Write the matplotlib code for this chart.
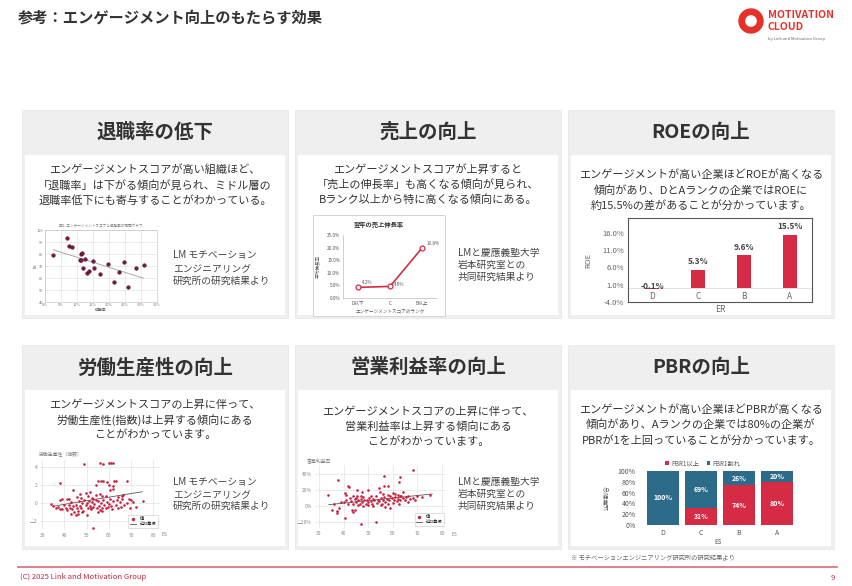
import numpy as np
import matplotlib
matplotlib.use("Agg")
import matplotlib.pyplot as plt
from matplotlib.patches import Rectangle, Wedge

plt.rcParams['font.family'] = ['Noto Sans CJK JP', 'DejaVu Sans']

W, H = 852, 586
RED = '#d52b45'
TEAL = '#2d6b8b'
DARK = '#333333'
GRAY = '#777777'

# ---- texts ----
page_title = '参考：エンゲージメント向上のもたらす効果'
headers = ['退職率の低下', '売上の向上', 'ROEの向上',
           '労働生産性の向上', '営業利益率の向上', 'PBRの向上']
descs = [
    ['エンゲージメントスコアが高い組織ほど、',
     '「退職率」は下がる傾向が見られ、ミドル層の',
     '退職率低下にも寄与することがわかっている。'],
    ['エンゲージメントスコアが上昇すると',
     '「売上の伸長率」も高くなる傾向が見られ、',
     'Bランク以上から特に高くなる傾向にある。'],
    ['エンゲージメントが高い企業ほどROEが高くなる',
     '傾向があり、DとAランクの企業ではROEに',
     '約15.5%の差があることが分かっています。'],
    ['エンゲージメントスコアの上昇に伴って、',
     '労働生産性(指数)は上昇する傾向にある',
     'ことがわかっています。'],
    ['エンゲージメントスコアの上昇に伴って、',
     '営業利益率は上昇する傾向にある',
     'ことがわかっています。'],
    ['エンゲージメントが高い企業ほどPBRが高くなる',
     '傾向があり、Aランクの企業では80%の企業が',
     'PBRが1を上回っていることが分かっています。'],
]
note_lm = ['LM モチベーション', 'エンジニアリング', '研究所の研究結果より']
note_keio = ['LMと慶應義塾大学', '岩本研究室との', '共同研究結果より']

# ---- chart 1: 退職率 vs ES ----
ret_x = [0.024, 0.068, 0.076, 0.084, 0.111, 0.115, 0.108, 0.113, 0.126, 0.118, 0.130,
         0.136, 0.151, 0.153, 0.171, 0.196, 0.215, 0.232, 0.246, 0.258, 0.283, 0.310]
ret_y = [79.3, 93.2, 86.9, 85.5, 80.1, 80.9, 74.9, 74.9, 75.5, 68.6, 64.0,
         65.6, 74.1, 68.6, 63.7, 71.6, 56.4, 65.1, 73.3, 52.8, 68.1, 71.1]
trend1_x = [0.025, 0.307]
trend1_y = [83.6, 59.9]

# ---- chart 2: 売上伸長率 ----
sales_cats = ['D以下', 'C', 'B以上']
sales_vals = [4.2, 4.6, 19.8]

# ---- chart 3: ROE ----
roe_cats = ['D', 'C', 'B', 'A']
roe_vals = [-0.1, 5.3, 9.6, 15.5]

# ---- chart 4: 労働生産性 vs ES ----
lp_x = [49, 56, 57.5, 60, 61, 62,
        38, 44, 54, 55, 56.5, 57.5, 59, 62, 62.3, 63, 68, 60,
        49.5, 50.5, 51.5, 47, 47.5, 52.5, 53, 57, 58.5, 60.5, 62, 66, 66.5, 64, 56, 54,
        45.5, 41, 42, 38, 39, 69, 70, 75.5, 72,
        34, 35, 36, 37, 38, 39, 40, 40.5, 41, 42, 42.5, 43, 43.5, 44, 44.5, 45, 45.5,
        46, 46.5, 47, 47.5, 48, 48.5, 49, 49.5, 50, 50.5, 51, 51.5, 52, 52.5, 53, 53.5,
        54, 54.5, 55, 55.5, 56, 56.5, 57, 57.5, 58, 58.5, 59, 59.5, 60, 60.5, 61, 61.5,
        62, 63, 63.5, 64, 65, 65.5, 66, 67, 68, 69.5, 71, 46, 50, 52, 55, 57, 43, 48,
        53, 45]
lp_y = [4.3, 4.4, 4.3, 4.4, 4.5, 4.5,
        2.2, 1.5, 2.0, 2.5, 2.5, 2.5, 2.3, 1.9, 2.5, 2.5, 2.5, 2.0,
        1.1, 0.8, 1.2, 1.0, 0.6, 0.6, 0.4, 0.8, 0.8, 1.4, 1.6, 0.8, 0.9, 0.7, 1.0, 0.9,
        0.7, 0.4, 0.5, 0.3, 0.5, 0.4, 0.3, 0.2, -0.4,
        -0.1, -0.3, -0.6, -0.4, -0.7, -0.7, -0.2, -0.6, -0.8, -0.2, -0.5, 0.1, -0.7, -0.3, -1.0, -0.2, -0.6,
        -1.2, 0.2, -0.3, -0.6, 0.0, -0.9, 0.3, -0.2, 0.0, -0.5, 0.2, -0.3, -0.7, 0.1, -0.4, -0.1,
        0.3, -0.6, 0.2, -0.3, -0.8, 0.0, -0.5, 0.3, -0.2, -0.6, 0.1, -0.4, -0.1, 0.4, -0.3, -0.7,
        0.2, -0.2, 0.3, -0.5, 0.1, -0.4, 0.4, -0.2, 0.0, -0.6, 0.1, -0.9, -1.3, -0.6, -1.0, -0.9, -1.2, -1.0,
        -2.8, -1.3]
trend4_x = [35, 75]
trend4_y = [-0.35, 1.25]

# ---- chart 5: 営業利益率 vs ES ----
om_x = [68, 37.6, 56.6, 63, 62.7, 41.7, 42.4, 56.4, 58, 45.4, 49.8, 47.4, 54.2, 54.9,
        40.6, 33.5, 41, 47, 56, 60, 62, 64, 66, 70, 72, 75, 45,
        40.6, 47, 53.2, 35.2, 37.3, 37.3, 43.3, 44, 44.7, 36, 38, 39,
        40, 41, 42, 42.5, 43, 44, 44.5, 45, 45.5, 46, 46.5, 47, 47.5, 48, 48.5, 49,
        49.5, 50, 50.5, 51, 51.5, 52, 52.5, 53, 53.5, 54, 54.5, 55, 55.5, 56, 56.5, 57,
        57.5, 58, 58.5, 59, 59.5, 60, 60.5, 61, 61.5, 62, 62.5, 63, 63.5, 64, 65, 65.5,
        66, 67, 68, 69, 50, 52, 55, 57, 48, 46, 44, 51, 58, 61, 63, 59]
om_y = [44.6, 33, 37, 36, 30, 24.6, 24.2, 24.6, 24.6, 20, 19.6, 18, 22.5, 17,
        16, 14, 14, 13, 15, 16, 14, 18, 13, 12, 11, 14, 10,
        -15, -22, -20, -4.6, -6.7, -8.7, -4.6, -8, -5.4, 3, -2, 5,
        5, 8, 3, 10, 6, 2, 9, 5, 12, 7, 3, 9, 5, 11, 7, 2,
        8, 5, 10, 6, 3, 9, 7, 12, 4, 8, 6, 10, 3, 7, 11, 5,
        9, 2, 7, 12, 10, 4, 8, 11, 6, 9, 3, 7, 12, 10, 8, 11,
        5, 9, 10, 7, 1, 0, 1, -1, 0, 1, 13, 13, 14, 15, 13, -2]
trend5_x = [34, 76]
trend5_y = [1.7, 15.0]

# ---- chart 6: PBR ----
pbr_cats = ['D', 'C', 'B', 'A']
pbr_over = [0, 31, 74, 80]
pbr_under = [100, 69, 26, 20]

fig = plt.figure(figsize=(W / 100, H / 100), dpi=100)
bg = fig.add_axes([0, 0, 1, 1])
bg.set_xlim(0, W)
bg.set_ylim(H, 0)
bg.axis('off')


def box(x0, y0, x1, y1):
    return fig.add_axes([x0 / W, 1 - y1 / H, (x1 - x0) / W, (y1 - y0) / H])


def lines(x, ys, txt, size, ha='center', color=DARK):
    for y, t in zip(ys, txt):
        bg.text(x, y, t, fontsize=size, ha=ha, va='center', color=color)


# header / logo
bg.text(18, 17, page_title, fontsize=11, fontweight='bold', color=DARK, va='center')
bg.add_patch(Wedge((751, 21), 12, 0, 360, width=5.5, color='#e4322b'))
bg.text(768, 15, 'MOTIVATION', fontsize=7.5, fontweight='bold', color='#e4322b', va='center')
bg.text(768, 27, 'CLOUD', fontsize=7.5, fontweight='bold', color='#e4322b', va='center')
bg.text(768, 39, 'by Link and Motivation Group', fontsize=3, color='#666666', va='center')

# cards
card_x = [(22, 288), (295, 561), (568, 834)]
rows = [(110, 155, 318), (345, 390, 549)]
desc_y = [[170, 185, 200], [170, 185, 200], [175, 191, 206],
          [405, 420, 435], [412, 427, 442], [410, 425, 440]]
for r, (top, mid, bot) in enumerate(rows):
    for c, (x0, x1) in enumerate(card_x):
        k = r * 3 + c
        bg.add_patch(Rectangle((x0, top), x1 - x0, bot - top, fc='#efefef', ec='#e6e6e6', lw=0.5))
        bg.add_patch(Rectangle((x0 + 3, mid), x1 - x0 - 6, bot - mid - 3, fc='white', ec='none'))
        bg.text((x0 + x1) / 2, (top + mid) / 2, headers[k], ha='center', va='center',
                fontsize=14, fontweight='bold', color=DARK)
        lines((x0 + x1) / 2, desc_y[k], descs[k], 8)

lines(173, [255, 268, 281], note_lm, 7, ha='left', color='#444444')
lines(458, [253, 265, 277], note_keio, 7, ha='left', color='#444444')
lines(173, [482, 494, 506], note_lm, 7, ha='left', color='#444444')
lines(458, [482, 494, 506], note_keio, 7, ha='left', color='#444444')

# chart 1
ax1 = box(45, 230, 157, 302)
ax1.scatter(ret_x, ret_y, s=7, color='#7a1a38', edgecolors='#4a0a20', linewidths=0.3, zorder=3)
ax1.plot(trend1_x, trend1_y, color='#aaaaaa', lw=0.7, zorder=2)
ax1.set_xlim(0, 0.35)
ax1.set_ylim(40, 100)
ax1.set_xticks(np.arange(0, 0.36, 0.05))
ax1.set_xticklabels([f'{int(round(v * 100))}%' for v in np.arange(0, 0.36, 0.05)])
ax1.set_yticks(range(40, 101, 10))
ax1.grid(color='#dddddd', lw=0.4)
ax1.tick_params(labelsize=2.8, length=0, pad=1, colors=GRAY)
for s in ax1.spines.values():
    s.set_color('#bbbbbb')
    s.set_linewidth(0.4)
bg.text(101, 226, '図1. エンゲージメントスコアと退職率の相関グラフ', fontsize=2.6, ha='center', va='center', color=GRAY)
bg.text(101, 310, '退職率', fontsize=2.8, ha='center', va='center', color='#555555')
bg.text(36, 266, 'ES', fontsize=2.8, ha='center', va='center', rotation=90, color='#555555')

# chart 2
bg.add_patch(Rectangle((313, 215), 132, 101, fc='white', ec='#cccccc', lw=0.6))
ax2 = box(343, 235, 437, 298)
xs2 = np.arange(len(sales_cats))
ax2.plot(xs2, sales_vals, color=RED, lw=1.2, marker='o', ms=3.5, mfc='white', mec=RED, mew=0.9)
for i, v in enumerate(sales_vals):
    ax2.annotate(f'{v:.1f}%', (i, v), textcoords='offset points', xytext=(3, 1.5),
                 fontsize=3.3, color='#555555', va='bottom' if i != 1 else 'center')
ax2.set_xlim(-0.47, 2.47)
ax2.set_ylim(0, 25)
ax2.set_yticks(range(0, 26, 5))
ax2.set_yticklabels([f'{v:.1f}%' for v in range(0, 26, 5)])
ax2.set_xticks(xs2)
ax2.set_xticklabels(sales_cats)
ax2.tick_params(labelsize=3.3, length=0, pad=2, colors='#555555')
for s in ['top', 'right']:
    ax2.spines[s].set_visible(False)
for s in ['left', 'bottom']:
    ax2.spines[s].set_color('#bbbbbb')
    ax2.spines[s].set_linewidth(0.5)
bg.text(379, 224, '翌年の売上伸長率', fontsize=4.5, fontweight='bold', ha='center', va='center', color=DARK)
bg.text(318, 266, '平均伸長率', fontsize=3.3, rotation=90, ha='center', va='center', color='#555555')
bg.text(390, 312, 'エンゲージメントスコアのランク', fontsize=3.3, ha='center', va='center', color='#555555')

# chart 3
ax3 = box(628, 218, 812, 302)
xs3 = np.arange(len(roe_cats))
ax3.bar(xs3, roe_vals, width=0.31, color=RED, zorder=3)
ax3.axhline(0, color='#dddddd', lw=0.6, zorder=2)
for i, v in enumerate(roe_vals):
    ax3.text(i, v + 2.3 if v > 0 else 0.4, f'{v:.1f}%', ha='center', va='center',
             fontsize=6, fontweight='bold', color='#444444', zorder=4)
ax3.set_xlim(-0.52, 3.48)
ax3.set_ylim(-4, 20.3)
ax3.set_yticks([-4, 1, 6, 11, 16])
ax3.set_yticklabels([f'{v:.1f}%' for v in [-4, 1, 6, 11, 16]])
ax3.set_xticks(xs3)
ax3.set_xticklabels(roe_cats)
ax3.tick_params(axis='y', labelsize=5.5, length=0, pad=3, colors='#666666')
ax3.tick_params(axis='x', labelsize=6, length=0, pad=-7, colors='#666666')
for s in ax3.spines.values():
    s.set_color('#555555')
    s.set_linewidth(0.8)
bg.text(588, 260, 'ROE', fontsize=5.5, rotation=90, ha='center', va='center', color='#666666')
bg.text(720, 309, 'ER', fontsize=6, ha='center', va='center', color='#666666')

# chart 4


def scatter_panel(ax, xs, ys, tx, ty):
    ax.scatter(xs, ys, s=3.5, color='#c8203f', linewidths=0, zorder=3, label='値')
    ax.plot(tx, ty, color='#555555', lw=0.6, zorder=2, label='近似曲線')
    ax.grid(color='#e3e3e3', lw=0.5)
    ax.set_axisbelow(True)
    ax.tick_params(labelsize=3.5, length=0, pad=2, colors='#888888')
    for s in ax.spines.values():
        s.set_visible(False)
    leg = ax.legend(loc='lower right', fontsize=3, frameon=True, handlelength=1.5,
                    borderpad=0.4, labelspacing=0.3, fancybox=False, markerscale=1.3)
    leg.get_frame().set_linewidth(0.4)
    leg.get_frame().set_edgecolor('#bbbbbb')


ax4 = box(40, 460, 160, 530)
scatter_panel(ax4, lp_x, lp_y, trend4_x, trend4_y)
ax4.set_xlim(29, 83)
ax4.set_ylim(-3.0, 4.78)
ax4.set_xticks(range(30, 81, 10))
ax4.set_yticks([-2, 0, 2, 4])
ax4.set_yticklabels(['△2', '0', '2', '4'])
bg.text(39, 455, '労働生産性（指数）', fontsize=3.5, va='center', color='#777777')
bg.text(162, 534, 'ES', fontsize=3.5, va='center', color='#888888')

# chart 5
ax5 = box(315, 465, 446, 528)
scatter_panel(ax5, om_x, om_y, trend5_x, trend5_y)
ax5.set_xlim(28.4, 81.6)
ax5.set_ylim(-27.5, 51.25)
ax5.set_xticks(range(30, 81, 10))
ax5.set_yticks([-20, 0, 20, 40])
ax5.set_yticklabels(['△20%', '0%', '20%', '40%'])
bg.text(307, 462, '営業利益率', fontsize=3.5, va='center', color='#777777')
bg.text(451, 535, 'ES', fontsize=3.5, va='center', color='#888888')

# chart 6
ax6 = box(640, 471, 797, 525)
xs6 = np.arange(len(pbr_cats))
ax6.bar(xs6, pbr_over, width=0.85, color=RED, label='PBR1以上')
ax6.bar(xs6, pbr_under, width=0.85, bottom=pbr_over, color=TEAL, label='PBR1割れ')
for i in xs6:
    if pbr_over[i] > 0:
        ax6.text(i, pbr_over[i] / 2, f'{pbr_over[i]}%', ha='center', va='center',
                 fontsize=5, fontweight='bold', color='white')
    ax6.text(i, pbr_over[i] + pbr_under[i] / 2, f'{pbr_under[i]}%', ha='center', va='center',
             fontsize=5, fontweight='bold', color='white')
ax6.set_xlim(-0.6, 3.53)
ax6.set_ylim(0, 100)
ax6.set_yticks(range(0, 101, 20))
ax6.set_yticklabels([f'{v}%' for v in range(0, 101, 20)])
ax6.set_xticks(xs6)
ax6.set_xticklabels(pbr_cats)
ax6.tick_params(labelsize=5, length=0, pad=3, colors='#555555')
for s in ax6.spines.values():
    s.set_visible(False)
ax6.legend(ncol=2, loc='lower center', bbox_to_anchor=(0.4, 1.02), fontsize=4.5, frameon=False,
           handlelength=0.6, handleheight=0.6, columnspacing=1.2, handletextpad=0.4,
           borderaxespad=0, labelcolor='#555555')
bg.text(607, 498, '企業割合', fontsize=4.5, rotation=90, ha='center', va='center', color='#555555')
bg.text(718, 542, 'ES', fontsize=4.5, ha='center', va='center', color='#555555')

# footer
bg.text(571, 558, '※ モチベーションエンジニアリング研究所の研究結果より', fontsize=4.5, va='center', color='#666666')
bg.plot([18, 837], [567, 567], color='#e2677a', lw=1.2)
bg.text(20, 577, '(C) 2025 Link and Motivation Group', fontsize=5.5, va='center', color='#c0283e')
bg.text(835, 578, '9', fontsize=5.5, ha='right', va='center', color='#c0283e')

fig.savefig('out.png', dpi=100)
